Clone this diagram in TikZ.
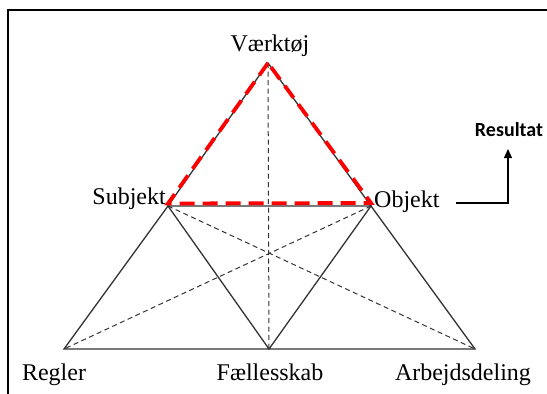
\documentclass[tikz,border=0pt]{standalone}
\usepackage{fontspec}
\setmainfont{Liberation Serif}
\newfontfamily\ressans{Carlito}
\usetikzlibrary{arrows.meta}

\begin{document}
\begin{tikzpicture}[
  x=1pt, y=-1pt,
  lbl/.style     = {font=\fontsize{24}{26}\selectfont, inner sep=0pt, anchor=base},
  edge/.style    = {line width=1.3pt, black!80},
  dashline/.style = {line width=1pt, black!80, dash pattern=on 5pt off 3.5pt},
  redline/.style = {line width=3.8pt, red, dash pattern=on 15pt off 8pt},
  arr/.style     = {-{Triangle[length=9pt,width=8pt]}, line width=1.3pt},
]
\useasboundingbox (0,0) rectangle (547,394);
\clip (0,0) rectangle (547,394);

% frame
\draw[line width=2pt] (8,10) rectangle (570,420);

% corners of the two triangles
\coordinate (tool) at (268,63);
\coordinate (subj) at (168,206);
\coordinate (obj)  at (371,206);
\coordinate (rules) at (64,349);
\coordinate (comm) at (269,349);
\coordinate (labour) at (475,349);

% labels
\node[lbl] (ltool)   at (270,51)  {Værktøj};
\node[lbl, anchor=base east] (lsubj) at (166,204) {Subjekt};
\node[lbl, anchor=base west] (lobj)  at (374,207) {Objekt};
\node[lbl] (lrules)  at (54,380)  {Regler};
\node[lbl] (lcomm)   at (270,380) {Fællesskab};
\node[lbl] (llabour) at (463,380) {Arbejdsdeling};
\node[font=\ressans\bfseries\fontsize{20}{22}\selectfont, inner sep=0pt] (result) at (509,130) {Resultat};

% solid sides
\draw[edge] (tool) -- (subj) -- (obj) -- cycle;
\draw[edge] (rules) -- (subj) -- (comm) -- (obj) -- (labour) -- cycle;

% dashed links
\draw[dashline] (tool) -- (comm);
\draw[dashline] (subj) -- (labour);
\draw[dashline] (obj) -- (rules);

% red top triangle
\draw[redline] (tool) -- ([yshift=2.5pt]subj) -- ([yshift=3pt]obj) -- cycle;

% result arrow
\coordinate (rstart) at (456,203);
\coordinate (rtip) at (508,149);
\draw[arr] (rstart) -| (rtip);

\end{tikzpicture}
\end{document}
